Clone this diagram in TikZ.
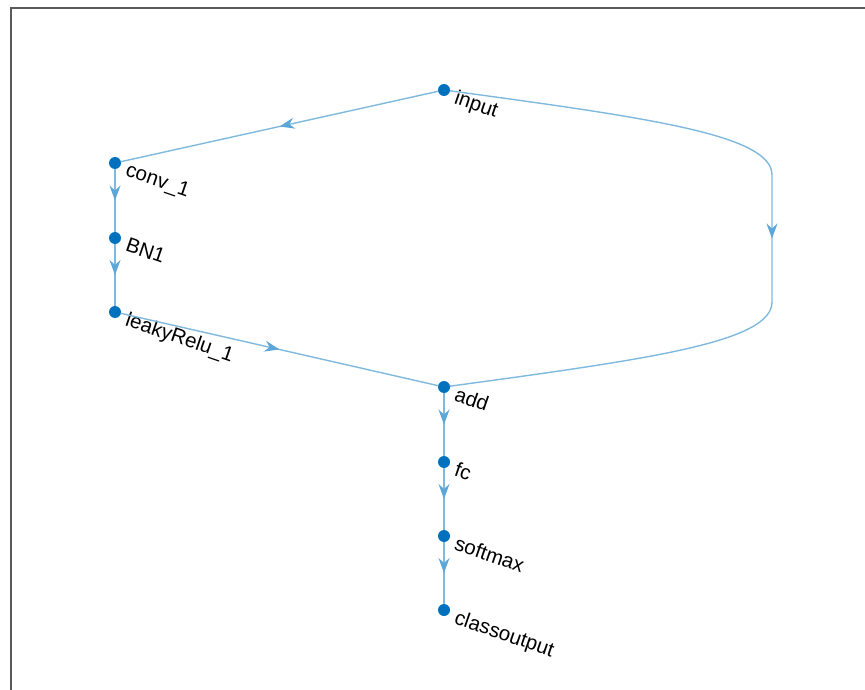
\documentclass[tikz,border=0pt]{standalone}
\usepackage{fontspec}
\setmainfont{Liberation Sans}
\usetikzlibrary{arrows.meta, decorations.markings}
\definecolor{mlBlue}{HTML}{0072BD}
\definecolor{mlEdge}{HTML}{80B9DE}
\definecolor{mlTip}{HTML}{5DA6D8}
\definecolor{mlFrame}{HTML}{5A5A5A}
\tikzset{
  layerdot/.style = {circle, fill=mlBlue, inner sep=0pt, minimum size=12pt},
  edge/.style     = {mlEdge, line width=1.4pt},
  midarrow/.style = {decoration={markings,
                      mark=at position 0.5 with {\arrow[mlTip]{Stealth[length=15pt, width=11pt, inset=5pt]}}},
                     postaction={decorate}},
  lbl/.style      = {font=\fontsize{20.5}{22}\selectfont, rotate=-19, anchor=north west, inner sep=0pt},
}
\begin{document}
\begin{tikzpicture}[x=1pt,y=-1pt]
  \useasboundingbox (0,0) rectangle (865,690);
  \draw[mlFrame, line width=1.6pt] (865,8) -- (11,8) -- (11,690);
  \foreach \n/\x/\y/\t in {input/444/90/input, conv1/115/163/conv\_1, bn1/115/238/BN1,
                           relu1/115/312/leakyRelu\_1, add/444/387/add, fc/444/462/fc,
                           softmax/444/536/softmax, classout/444/610/classoutput}
    { \node[layerdot] (\n) at (\x,\y) {}; \node[lbl] (\n-lbl) at ([shift={(14,-1)}]\n.center) {\t}; }
  \draw[edge, midarrow] (input) -- (conv1);
  \foreach \a/\b in {conv1/bn1, bn1/relu1, add/fc, fc/softmax, softmax/classout}
    \draw[edge, midarrow] (\a) -- (\b);
  \draw[edge, midarrow] (relu1) -- (add);
  \draw[edge, midarrow] (input) .. controls (650,118) and (772,135) .. (772,175)
    -- (772,302) .. controls (772,342) and (650,359) .. (add);
\end{tikzpicture}
\end{document}
